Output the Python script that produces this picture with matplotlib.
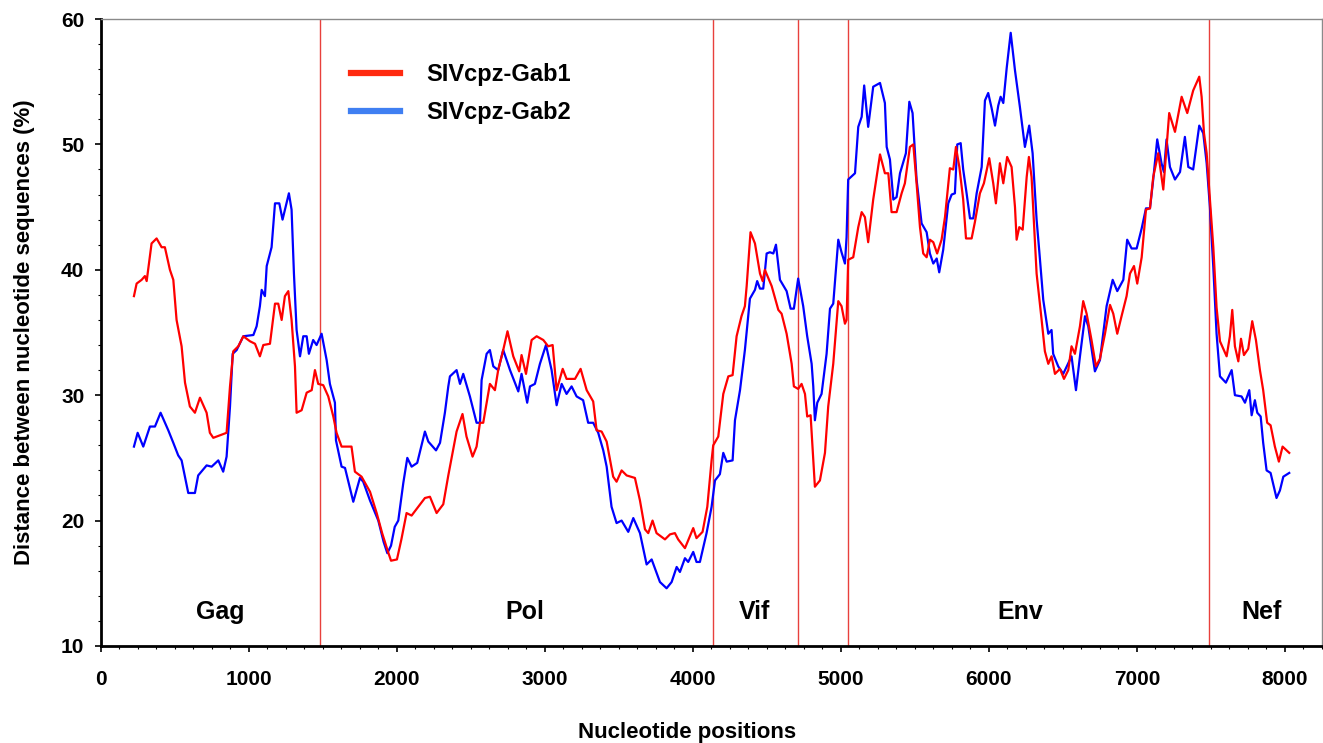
import matplotlib.pyplot as plt
from matplotlib.lines import Line2D
from matplotlib.ticker import MultipleLocator
import numpy as np

plt.rcParams['font.family'] = ['Liberation Sans', 'DejaVu Sans']
plt.rcParams['font.weight'] = 'bold'

# SIVcpz-Gab1 (red)
gab1_x = [223, 241, 275, 297, 309, 342, 376, 410, 432, 466, 489, 511, 545, 568, 601, 635, 669, 714, 736, 759,
          804, 849, 872, 894, 928, 962, 1007, 1041, 1074, 1097, 1142, 1176, 1198, 1221, 1243, 1266, 1288, 1311,
          1322, 1356, 1390, 1424, 1446, 1468, 1502, 1536, 1570, 1592, 1626, 1693, 1716, 1761, 1818, 1863, 1900,
          1940, 1960, 2000, 2030, 2065, 2099, 2144, 2189, 2223, 2268, 2313, 2347, 2403, 2443, 2470, 2511, 2538,
          2561, 2583, 2628, 2662, 2684, 2718, 2747, 2786, 2826, 2842, 2872, 2910, 2944, 2989, 3022, 3052, 3079,
          3120, 3146, 3203, 3241, 3282, 3326, 3349, 3383, 3417, 3461, 3484, 3518, 3552, 3608, 3642, 3676, 3698,
          3727, 3754, 3811, 3845, 3878, 3900, 3946, 4002, 4024, 4065, 4097, 4126, 4137, 4171, 4205, 4239, 4268,
          4295, 4328, 4351, 4363, 4389, 4419, 4453, 4471, 4486, 4532, 4577, 4599, 4633, 4667, 4682, 4711, 4734,
          4757, 4772, 4795, 4824, 4858, 4892, 4914, 4948, 4982, 5004, 5027, 5038, 5049, 5083, 5117, 5140, 5162,
          5184, 5218, 5264, 5297, 5320, 5342, 5376, 5410, 5432, 5466, 5489, 5511, 5534, 5556, 5579, 5601, 5624,
          5650, 5680, 5703, 5736, 5759, 5777, 5800, 5826, 5845, 5883, 5905, 5939, 5966, 6002, 6029, 6047, 6074,
          6097, 6123, 6153, 6176, 6187, 6205, 6228, 6255, 6270, 6288, 6322, 6356, 6378, 6401, 6423, 6446, 6480,
          6507, 6536, 6558, 6581, 6615, 6637, 6660, 6693, 6723, 6750, 6784, 6818, 6840, 6867, 6896, 6930, 6953,
          6980, 7002, 7032, 7061, 7088, 7110, 7144, 7178, 7218, 7257, 7302, 7340, 7380, 7421, 7437, 7453, 7471,
          7493, 7516, 7538, 7561, 7606, 7628, 7644, 7662, 7685, 7703, 7723, 7752, 7779, 7804, 7831, 7853, 7880,
          7903, 7932, 7959, 7984, 8029]
gab1_y = [37.9, 38.9, 39.2, 39.5, 39.1, 42.1, 42.5, 41.8, 41.8, 40.0, 39.2, 36.0, 33.9, 31.0, 29.1, 28.6, 29.8,
          28.6, 27.0, 26.6, 26.8, 27.0, 30.7, 33.5, 33.9, 34.7, 34.3, 34.1, 33.1, 34.0, 34.1, 37.3, 37.3, 36.0,
          37.9, 38.3, 36.0, 32.3, 28.6, 28.8, 30.2, 30.4, 32.0, 30.9, 30.8, 29.9, 28.3, 27.0, 25.9, 25.9, 23.9,
          23.5, 22.3, 20.6, 19.0, 17.5, 16.8, 16.9, 18.5, 20.6, 20.4, 21.1, 21.8, 21.9, 20.6, 21.3, 23.6, 27.1,
          28.5, 26.7, 25.1, 25.9, 27.8, 27.8, 30.9, 30.4, 32.0, 33.6, 35.1, 33.1, 31.9, 33.2, 31.7, 34.4, 34.7,
          34.4, 33.9, 34.0, 30.4, 32.1, 31.3, 31.3, 32.1, 30.4, 29.5, 27.2, 27.1, 26.3, 23.5, 23.1, 24.0, 23.6,
          23.4, 21.6, 19.3, 19.0, 20.0, 19.0, 18.5, 18.9, 19.0, 18.5, 17.8, 19.4, 18.6, 19.1, 21.1, 24.8, 26.0,
          26.7, 30.1, 31.5, 31.6, 34.7, 36.3, 37.1, 38.7, 43.0, 42.1, 39.7, 39.1, 40.0, 38.7, 36.8, 36.5, 34.9,
          32.5, 30.7, 30.5, 30.9, 30.1, 28.3, 28.4, 22.7, 23.2, 25.4, 29.1, 32.5, 37.5, 37.1, 35.7, 36.0, 40.8,
          41.0, 43.4, 44.6, 44.2, 42.2, 45.6, 49.2, 47.7, 47.7, 44.6, 44.6, 46.1, 46.9, 49.8, 50.0, 46.9, 43.4,
          41.3, 41.0, 42.4, 42.2, 41.3, 42.4, 44.2, 48.1, 48.0, 49.8, 48.2, 45.6, 42.5, 42.5, 43.8, 46.1, 46.9,
          48.9, 46.9, 45.3, 48.5, 46.9, 49.0, 48.2, 45.0, 42.4, 43.4, 43.2, 47.4, 49.0, 47.4, 39.7, 36.0, 33.5,
          32.5, 33.1, 31.7, 32.1, 31.3, 32.0, 33.9, 33.3, 35.5, 37.5, 36.5, 34.4, 32.3, 32.9, 34.9, 37.2, 36.5,
          34.9, 36.3, 37.9, 39.7, 40.3, 38.9, 41.0, 44.8, 44.9, 47.4, 49.3, 46.4, 52.5, 51.0, 53.8, 52.5, 54.3,
          55.4, 53.8, 50.9, 49.3, 45.6, 41.8, 37.0, 34.3, 33.1, 34.7, 36.8, 33.9, 32.7, 34.5, 33.2, 33.7, 35.9,
          34.4, 32.0, 30.4, 27.8, 27.6, 25.9, 24.7, 25.9, 25.4]

# SIVcpz-Gab2 (blue)
gab2_x = [223, 248, 286, 331, 365, 403, 455, 489, 522, 545, 590, 635, 657, 714, 748, 793, 826, 849, 872, 890,
          917, 962, 1030, 1052, 1074, 1086, 1108, 1120, 1153, 1176, 1205, 1227, 1270, 1288, 1304, 1322, 1345,
          1367, 1390, 1405, 1434, 1457, 1491, 1525, 1547, 1581, 1588, 1626, 1649, 1705, 1750, 1772, 1818, 1874,
          1910, 1935, 1960, 1985, 2009, 2043, 2070, 2099, 2137, 2189, 2212, 2264, 2291, 2324, 2347, 2358, 2403,
          2426, 2448, 2493, 2538, 2561, 2572, 2606, 2628, 2651, 2684, 2718, 2764, 2820, 2842, 2880, 2899, 2932,
          2966, 3007, 3045, 3079, 3113, 3146, 3180, 3214, 3258, 3292, 3326, 3360, 3394, 3417, 3450, 3484, 3518,
          3563, 3597, 3642, 3687, 3721, 3777, 3822, 3856, 3890, 3912, 3946, 3968, 4002, 4024, 4047, 4092, 4126,
          4149, 4182, 4205, 4228, 4268, 4284, 4318, 4351, 4385, 4419, 4434, 4453, 4475, 4498, 4520, 4543, 4561,
          4588, 4633, 4660, 4682, 4711, 4745, 4772, 4802, 4813, 4824, 4840, 4869, 4903, 4926, 4948, 4982, 5004,
          5027, 5038, 5049, 5095, 5117, 5140, 5157, 5184, 5218, 5264, 5297, 5309, 5331, 5354, 5376, 5399, 5439,
          5462, 5484, 5511, 5545, 5579, 5601, 5624, 5647, 5664, 5691, 5725, 5748, 5770, 5786, 5809, 5826, 5849,
          5872, 5894, 5917, 5951, 5973, 5995, 6018, 6041, 6063, 6079, 6097, 6120, 6147, 6176, 6209, 6243, 6272,
          6295, 6322, 6340, 6367, 6401, 6423, 6434, 6468, 6502, 6558, 6588, 6615, 6649, 6671, 6716, 6750, 6795,
          6836, 6867, 6908, 6934, 6964, 6998, 7032, 7061, 7088, 7110, 7137, 7166, 7182, 7200, 7223, 7257, 7291,
          7324, 7347, 7380, 7421, 7448, 7471, 7493, 7516, 7538, 7561, 7601, 7640, 7662, 7707, 7730, 7759, 7775,
          7797, 7813, 7836, 7853, 7876, 7903, 7943, 7966, 7989, 8029]
gab2_y = [25.9, 27.0, 25.9, 27.5, 27.5, 28.6, 27.2, 26.2, 25.2, 24.8, 22.2, 22.2, 23.6, 24.4, 24.3, 24.8, 23.9,
          25.1, 29.1, 33.3, 33.6, 34.7, 34.8, 35.5, 37.1, 38.4, 37.9, 40.3, 41.8, 45.3, 45.3, 44.0, 46.1, 44.8,
          39.7, 35.2, 33.1, 34.7, 34.7, 33.3, 34.4, 34.0, 34.9, 32.8, 30.9, 29.4, 26.4, 24.3, 24.2, 21.5, 23.4,
          23.1, 21.6, 20.0, 18.3, 17.4, 18.0, 19.5, 20.0, 23.0, 25.0, 24.3, 24.6, 27.1, 26.3, 25.6, 26.2, 28.6,
          30.7, 31.5, 32.0, 30.9, 31.7, 29.9, 27.8, 27.8, 31.2, 33.3, 33.6, 32.3, 32.0, 33.6, 32.0, 30.3, 31.7,
          29.4, 30.7, 30.9, 32.5, 34.0, 32.0, 29.2, 30.9, 30.1, 30.7, 29.9, 29.6, 27.8, 27.8, 27.0, 25.6, 24.3,
          21.1, 19.8, 20.0, 19.1, 20.2, 19.0, 16.5, 16.9, 15.1, 14.6, 15.1, 16.3, 15.9, 17.0, 16.7, 17.5, 16.7,
          16.7, 19.0, 21.1, 23.2, 23.7, 25.4, 24.7, 24.8, 28.0, 30.4, 33.6, 37.7, 38.4, 39.1, 38.5, 38.5, 41.3,
          41.4, 41.3, 42.0, 39.2, 38.3, 36.9, 36.9, 39.3, 37.1, 34.7, 32.5, 30.7, 28.0, 29.4, 30.1, 33.3, 36.9,
          37.3, 42.4, 41.4, 40.5, 42.6, 47.2, 47.7, 51.4, 52.2, 54.7, 51.4, 54.6, 54.9, 53.3, 49.8, 48.8, 45.6,
          45.8, 47.7, 49.3, 53.4, 52.5, 47.2, 43.7, 43.0, 41.3, 40.5, 40.9, 39.8, 41.6, 45.3, 46.0, 46.1, 50.0,
          50.1, 48.0, 46.1, 44.1, 44.1, 46.1, 48.2, 53.5, 54.1, 52.9, 51.5, 53.1, 53.8, 53.3, 56.1, 58.9, 55.9,
          53.0, 49.8, 51.5, 49.3, 44.0, 41.5, 37.6, 34.9, 35.2, 33.3, 32.3, 31.7, 33.1, 30.4, 33.1, 36.3, 35.5,
          31.9, 32.8, 37.1, 39.2, 38.3, 39.2, 42.4, 41.7, 41.7, 43.3, 44.9, 44.9, 47.2, 50.4, 48.5, 47.8, 50.4,
          48.2, 47.2, 47.8, 50.6, 48.2, 48.0, 51.5, 50.9, 48.5, 45.0, 40.2, 34.9, 31.5, 31.0, 32.0, 30.0, 29.9,
          29.4, 30.4, 28.4, 29.6, 28.6, 28.3, 26.2, 24.0, 23.8, 21.8, 22.4, 23.5, 23.8]

gene_bounds = [1480, 4135, 4712, 5045, 7486]
gene_names = ['Gag', 'Pol', 'Vif', 'Env', 'Nef']
gene_label_x = [804, 2865, 4419, 6209, 7845]

fig = plt.figure(figsize=(13.23, 7.43), dpi=100)
ax = fig.add_axes([0.0763, 0.1306, 0.9229, 0.8438])

for b in gene_bounds:
    ax.axvline(b, color='#e8403c', linewidth=1.0, zorder=1)

ax.plot(gab2_x, gab2_y, color='#0000ff', linewidth=1.6, zorder=2)
ax.plot(gab1_x, gab1_y, color='#ff0000', linewidth=1.6, zorder=3)

for name, gx in zip(gene_names, gene_label_x):
    ax.text(gx, 12.7, name, ha='center', va='center', fontsize=18, fontweight='bold')

ax.set_xlim(0, 8250)
ax.set_ylim(10, 60)
ax.xaxis.set_major_locator(MultipleLocator(1000))
ax.xaxis.set_minor_locator(MultipleLocator(125))
ax.yaxis.set_major_locator(MultipleLocator(10))
ax.yaxis.set_minor_locator(MultipleLocator(2))
ax.tick_params(which='major', length=4, width=1.2, labelsize=15, direction='out')
ax.tick_params(which='minor', length=2.5, width=0.8, direction='out')
for lab in ax.get_xticklabels() + ax.get_yticklabels():
    lab.set_fontweight('bold')
ax.tick_params(axis='x', pad=13)
ax.tick_params(axis='y', pad=8)

for s in ['left', 'bottom']:
    ax.spines[s].set_linewidth(2.0)
    ax.spines[s].set_color('black')
for s in ['top', 'right']:
    ax.spines[s].set_linewidth(1.0)
    ax.spines[s].set_color('#8a8a8a')

ax.set_xlabel('Nucleotide positions', fontsize=16, fontweight='bold')
ax.xaxis.set_label_coords(0.48, -0.122)
ax.set_ylabel('Distance between nucleotide sequences (%)', fontsize=16, fontweight='bold')
ax.yaxis.set_label_coords(-0.054, 0.5)

handles = [Line2D([], [], color='#ff2a10', linewidth=4.5),
           Line2D([], [], color='#3f7ff2', linewidth=4.5)]
ax.legend(handles, ['SIVcpz-Gab1', 'SIVcpz-Gab2'], loc='upper left', bbox_to_anchor=(0.193, 0.952),
          frameon=False, prop={'size': 17, 'weight': 'bold'}, handlelength=2.1, handletextpad=1.1,
          labelspacing=0.62, borderaxespad=0.2)

fig.savefig('out.png', dpi=100)
